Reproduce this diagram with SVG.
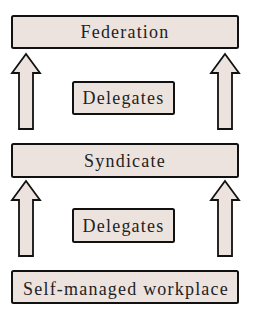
<svg xmlns="http://www.w3.org/2000/svg" width="256" height="320" viewBox="0 0 256 320">
<defs>
<style>
.box{fill:#ede3de;stroke:#111;stroke-width:2}
.arr{fill:#ede3de;stroke:#111;stroke-width:1.8;stroke-linejoin:miter}
.t{font-family:'Liberation Serif','Times New Roman',serif;font-size:18px;letter-spacing:1.2px;fill:#222;text-anchor:middle}
</style>
</defs>
<rect width="256" height="320" fill="#fff"/>
<g id="connectors">
<path class="arr" d="M26,54 L40,73 L33,73 L33,129 L19,129 L19,73 L12,73 Z"/>
<path class="arr" d="M225,54 L239,73 L232,73 L232,129 L218,129 L218,73 L211,73 Z"/>
<path class="arr" d="M26,181 L40,200 L33,200 L33,256 L19,256 L19,200 L12,200 Z"/>
<path class="arr" d="M225,181 L239,200 L232,200 L232,256 L218,256 L218,200 L211,200 Z"/>
</g>
<g id="federation">
<rect class="box" x="12" y="16" width="226" height="32" rx="1.5"/>
<text class="t" x="125" y="38">Federation</text>
</g>
<g id="delegates1">
<rect class="box" x="73" y="82" width="101" height="32" rx="1.5"/>
<text class="t" x="123.5" y="104">Delegates</text>
</g>
<g id="syndicate">
<rect class="box" x="12" y="144" width="226" height="33" rx="1.5"/>
<text class="t" x="125" y="167">Syndicate</text>
</g>
<g id="delegates2">
<rect class="box" x="73" y="209" width="101" height="33" rx="1.5"/>
<text class="t" x="123.5" y="232">Delegates</text>
</g>
<g id="workplace">
<rect class="box" x="12" y="271" width="226" height="32" rx="1.5"/>
<text class="t" x="126" y="295">Self-managed workplace</text>
</g>
</svg>
